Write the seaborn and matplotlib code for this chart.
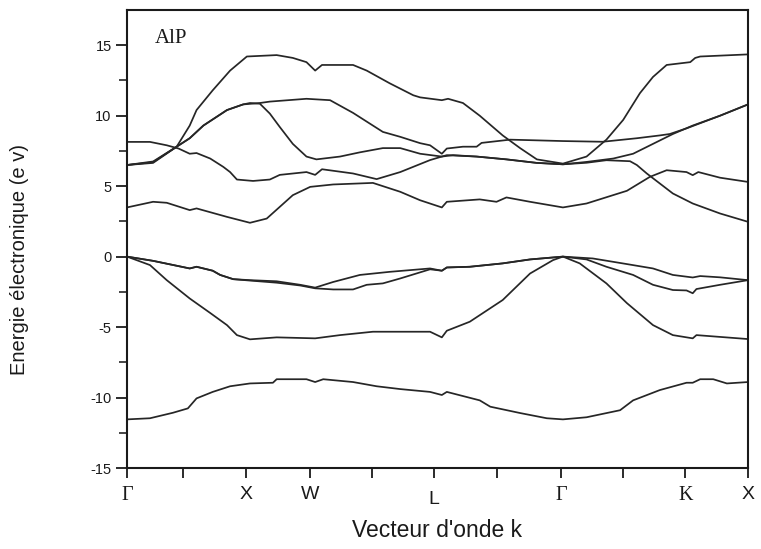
import numpy as np
import pandas as pd
import matplotlib
matplotlib.use("Agg")
import matplotlib.pyplot as plt
import seaborn as sns

# ---- data (k in path units 0..10, energies in eV) ----
tick_pos = [0, 0.90, 1.92, 2.95, 3.95, 4.94, 5.96, 6.99, 7.99, 8.99, 10]
tick_lab = ["\u0393", "", "X", "W", "", "L", "", "\u0393", "", "K", "X"]

k_v1 = [0, 0.37, 0.74, 0.98, 1.12, 1.38, 1.66, 1.98, 2.35, 2.41, 2.89, 3.03, 3.16, 3.64, 4.02, 4.40, 4.88, 5.07, 5.15,
        5.68, 5.85, 6.33, 6.76, 7.02, 7.40, 7.94, 8.15, 8.58, 9.01, 9.11, 9.23, 9.44, 9.66, 10]
e_v1 = [-11.55, -11.47, -11.08, -10.77, -10.06, -9.6, -9.2, -9.0, -8.95, -8.7, -8.7, -8.9, -8.7, -8.9, -9.2, -9.4, -9.6,
        -9.82, -9.6, -10.2, -10.65, -11.1, -11.47, -11.55, -11.4, -10.9, -10.2, -9.47, -8.95, -8.95, -8.7, -8.7, -9.0, -8.9]

k_v2 = [0, 0.37, 0.64, 1.01, 1.34, 1.61, 1.77, 1.98, 2.41, 3.03, 3.43, 3.96, 4.88, 5.07, 5.15, 5.52, 6.05, 6.49, 6.86,
        7.02, 7.29, 7.72, 8.05, 8.47, 8.79, 9.11, 9.17, 10]
e_v2 = [0, -0.6, -1.67, -2.97, -4.0, -4.86, -5.57, -5.87, -5.73, -5.8, -5.57, -5.33, -5.33, -5.73, -5.26, -4.62, -3.08,
        -1.2, -0.25, 0, -0.48, -1.9, -3.3, -4.86, -5.57, -5.8, -5.57, -5.85]

k_v3 = [0, 0.42, 1.01, 1.12, 1.38, 1.50, 1.71, 1.98, 2.41, 2.79, 3.03, 3.32, 3.75, 4.23, 4.88, 5.07, 5.15, 5.52, 6.05,
        6.49, 7.02, 7.50, 8.05, 8.47, 8.79, 9.11, 9.23, 9.55, 10]
e_v3 = [0, -0.3, -0.84, -0.72, -1.0, -1.3, -1.6, -1.67, -1.75, -2.0, -2.2, -1.8, -1.3, -1.08, -0.84, -1.0, -0.77, -0.72,
        -0.48, -0.2, 0, -0.13, -0.53, -0.84, -1.3, -1.48, -1.38, -1.47, -1.67]

k_v4 = [0, 0.42, 1.01, 1.12, 1.38, 1.50, 1.71, 1.98, 2.41, 2.79, 3.03, 3.32, 3.64, 3.86, 4.12, 4.40, 4.88, 5.07, 5.15,
        5.52, 6.05, 6.49, 7.02, 7.40, 7.72, 8.15, 8.47, 8.79, 9.01, 9.11, 9.17, 9.55, 10]
e_v4 = [0, -0.3, -0.84, -0.72, -1.0, -1.3, -1.6, -1.7, -1.85, -2.05, -2.25, -2.33, -2.33, -2.0, -1.9, -1.55, -0.9, -1.0,
        -0.77, -0.72, -0.48, -0.2, 0, -0.2, -0.72, -1.3, -2.0, -2.37, -2.4, -2.6, -2.3, -2.0, -1.67]

k_c1 = [0, 0.42, 0.64, 1.01, 1.12, 1.61, 1.98, 2.25, 2.46, 2.67, 2.95, 3.32, 3.96, 4.40, 4.72, 5.07, 5.15, 5.68, 5.95,
        6.11, 6.49, 7.02, 7.40, 8.05, 8.42, 8.69, 9.01, 9.11, 9.20, 9.55, 10]
e_c1 = [3.49, 3.89, 3.82, 3.3, 3.42, 2.82, 2.4, 2.7, 3.53, 4.36, 4.95, 5.12, 5.23, 4.6, 4.0, 3.49, 3.89, 4.06, 3.89,
        4.2, 3.89, 3.49, 3.77, 4.67, 5.66, 6.13, 6.0, 5.78, 6.0, 5.6, 5.3]

k_c2 = [0, 0.37, 0.64, 0.83, 1.01, 1.12, 1.34, 1.55, 1.66, 1.77, 2.03, 2.30, 2.46, 2.89, 3.03, 3.14, 3.64, 4.02, 4.40,
        4.88, 5.07, 5.15, 5.63, 6.11, 6.60, 7.02, 7.40, 7.72, 8.10, 8.21, 8.37, 8.79, 9.11, 9.55, 10]
e_c2 = [8.14, 8.14, 7.9, 7.67, 7.3, 7.35, 6.96, 6.37, 6.0, 5.47, 5.37, 5.47, 5.8, 6.0, 5.8, 6.2, 5.9, 5.5, 6.0,
        6.85, 7.1, 7.2, 7.1, 6.9, 6.65, 6.55, 6.66, 6.84, 6.77, 6.5, 5.9, 4.48, 3.77, 3.06, 2.47]

k_c3 = [0, 0.42, 0.80, 1.01, 1.23, 1.61, 1.87, 1.98, 2.14, 2.30, 2.46, 2.67, 2.89, 3.05, 3.43, 3.75, 4.12, 4.40, 4.72,
        5.07, 5.25, 5.63, 6.11, 6.60, 7.02, 7.40, 7.83, 8.15, 8.47, 8.79, 9.11, 9.55, 10]
e_c3 = [6.5, 6.7, 7.8, 8.4, 9.3, 10.4, 10.8, 10.9, 10.85, 10.15, 9.2, 8.0, 7.1, 6.9, 7.1, 7.4, 7.7, 7.7, 7.3,
        7.1, 7.2, 7.1, 6.9, 6.65, 6.55, 6.72, 6.96, 7.3, 8.0, 8.7, 9.3, 10.0, 10.8]

k_c4 = [0, 0.42, 0.80, 1.01, 1.23, 1.61, 1.87, 2.14, 2.30, 2.89, 3.27, 3.64, 4.12, 4.40, 4.72, 4.88, 5.07, 5.15, 5.41,
        5.63, 5.71, 6.17, 6.60, 7.02, 7.66, 8.21, 8.58, 8.74, 9.01, 9.55, 10]
e_c4 = [6.5, 6.65, 7.8, 8.4, 9.3, 10.4, 10.8, 10.9, 11.0, 11.2, 11.1, 10.2, 8.85, 8.5, 8.05, 7.9, 7.3, 7.67, 7.8,
        7.8, 8.07, 8.3, 8.25, 8.2, 8.15, 8.4, 8.6, 8.7, 9.1, 10.0, 10.8]

k_c5 = [0, 0.42, 0.80, 1.01, 1.12, 1.38, 1.66, 1.93, 2.41, 2.67, 2.89, 3.03, 3.14, 3.64, 3.86, 4.23, 4.61, 4.72, 5.07,
        5.17, 5.41, 5.68, 6.05, 6.33, 6.60, 7.02, 7.40, 7.72, 7.99, 8.26, 8.47, 8.69, 9.07, 9.15, 9.23, 10]
e_c5 = [6.5, 6.75, 7.8, 9.3, 10.4, 11.8, 13.2, 14.2, 14.3, 14.1, 13.8, 13.2, 13.6, 13.6, 13.2, 12.3, 11.45, 11.3, 11.1,
        11.2, 10.9, 10.0, 8.6, 7.7, 6.9, 6.6, 7.1, 8.3, 9.7, 11.6, 12.75, 13.6, 13.8, 14.1, 14.2, 14.35]

bands = {"v1": (k_v1, e_v1), "v2": (k_v2, e_v2), "v3": (k_v3, e_v3), "v4": (k_v4, e_v4),
         "c1": (k_c1, e_c1), "c2": (k_c2, e_c2), "c3": (k_c3, e_c3), "c4": (k_c4, e_c4), "c5": (k_c5, e_c5)}

frames = []
for name, (kk, ee) in bands.items():
    frames.append(pd.DataFrame({"k": kk, "E": ee, "band": name}))
df = pd.concat(frames, ignore_index=True)

# ---- figure ----
sns.set_style("ticks")
plt.rcParams["font.family"] = ["Liberation Sans", "DejaVu Sans"]
plt.rcParams["axes.unicode_minus"] = False

fig = plt.figure(figsize=(7.61, 5.49), dpi=100)
ax = fig.add_axes([127 / 761, 1 - 468 / 549, (748 - 127) / 761, (468 - 10) / 549])

sns.lineplot(data=df, x="k", y="E", units="band", estimator=None, sort=False,
             color="#262626", linewidth=1.25, ax=ax, legend=False)

ax.set_xlim(0, 10)
ax.set_ylim(-15, 17.5)

for s in ax.spines.values():
    s.set_linewidth(1.5)
    s.set_color("#1a1a1a")
    s.set_visible(True)

ax.set_yticks([-15, -10, -5, 0, 5, 10, 15])
ax.set_yticks(np.arange(-12.5, 17.5, 5.0), minor=True)
ax.tick_params(axis="y", which="major", direction="out", length=8, width=1.3, labelsize=10.5,
               colors="#1a1a1a", pad=3, right=False)
ax.tick_params(axis="y", which="minor", direction="out", length=6, width=1.2, right=False)
ax.set_xticks(tick_pos)
ax.set_xticklabels(tick_lab)
ax.tick_params(axis="x", which="major", direction="out", length=7, width=1.3, labelsize=14,
               colors="#1a1a1a", pad=6, top=False)
for lab, txt in zip(ax.get_xticklabels(), tick_lab):
    if txt in ("\u0393", "K"):
        lab.set_family(["Liberation Serif", "DejaVu Serif"])
        lab.set_fontsize(14.5)
    if txt == "L":
        lab.set_y(-0.01)

ax.set_xlabel("Vecteur d'onde k", fontsize=16.5, color="#1a1a1a")
ax.xaxis.set_label_coords(0.5, -0.112)
ax.set_ylabel("Energie électronique (e v)", fontsize=14.5, color="#1a1a1a")
ax.yaxis.set_label_coords(-0.158, 0.456)

ax.text(0.045, 0.958, "AlP", transform=ax.transAxes, fontsize=15,
        family=["Liberation Serif", "DejaVu Serif"], color="#1a1a1a", va="top", ha="left")

fig.savefig("out.png", dpi=100, facecolor="white")
